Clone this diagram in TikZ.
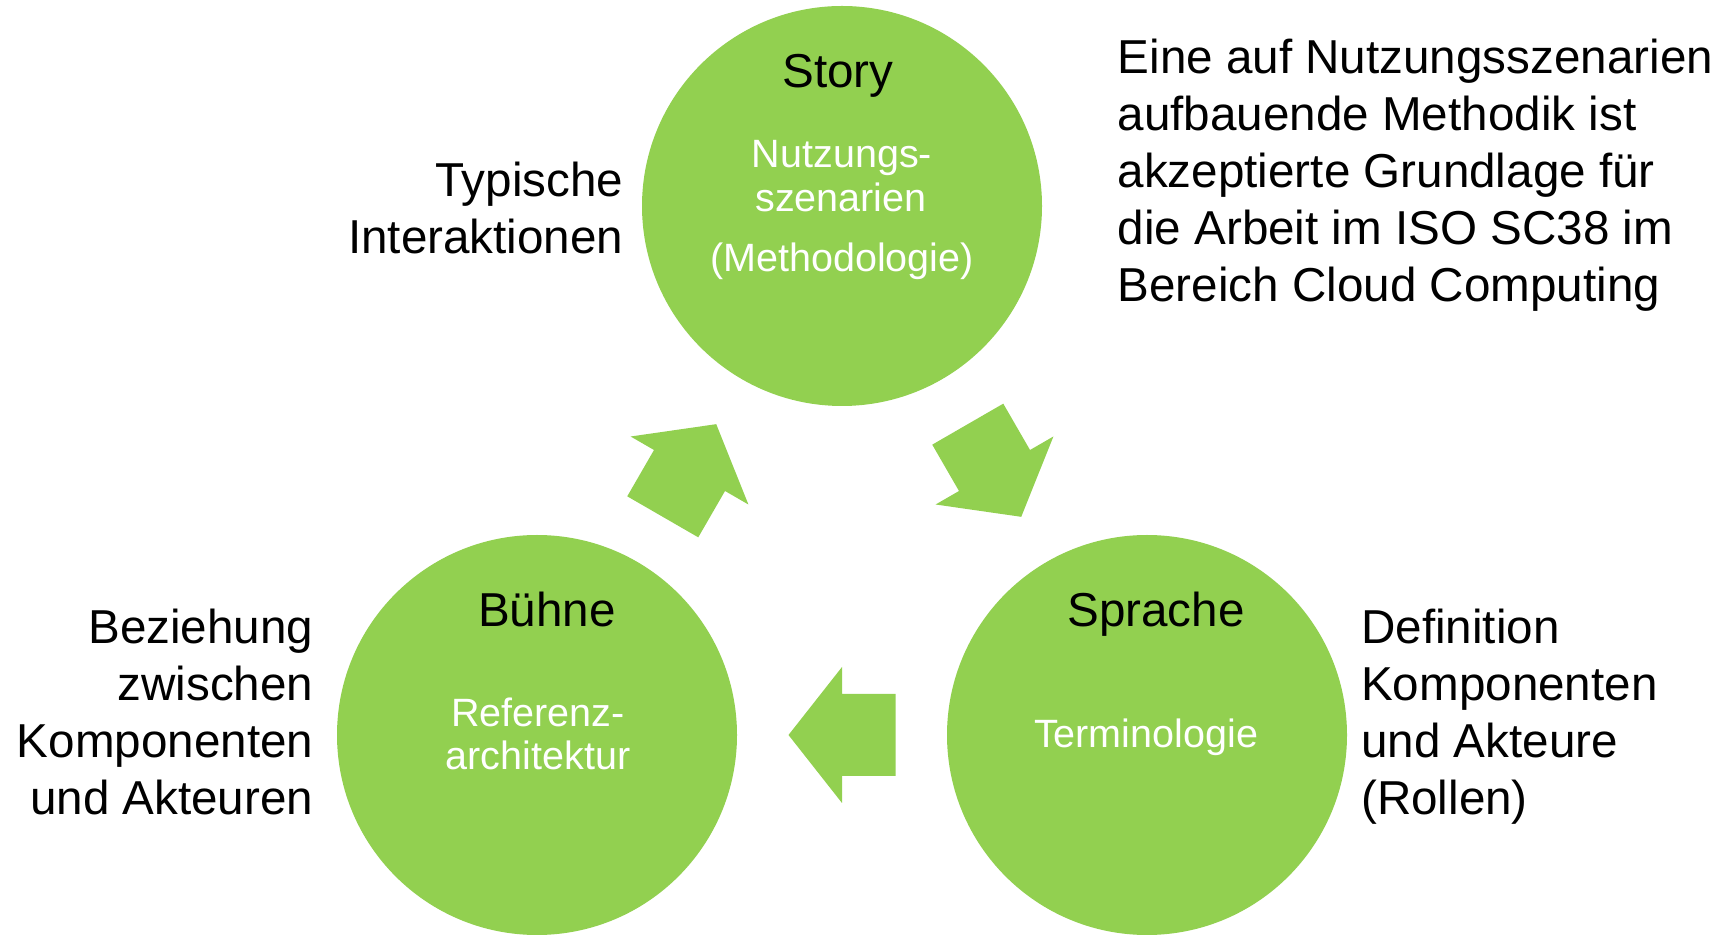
\documentclass[tikz,border=0pt]{standalone}
\usepackage{fontspec}
\setmainfont{Liberation Sans}
\usetikzlibrary{calc}
\definecolor{leaf}{HTML}{92D050}
\begin{document}
\begin{tikzpicture}[x=1pt,y=1pt,
  disc/.style={circle, fill=leaf, minimum size=400pt, inner sep=0pt},
  title/.style={font=\fontsize{47.6}{57.1}\selectfont, inner sep=0pt, text=black},
  sub/.style={font=\fontsize{39.5}{44}\selectfont, inner sep=0pt, text=white, align=center},
  note/.style={font=\fontsize{47.6}{57.1}\selectfont, inner sep=0pt, text=black},
  blockarrow/.style={fill=leaf}]
\useasboundingbox (0,0) rectangle (1731,934);

% the three stages
\node[disc] (story)   at (842,728) {};
\node[disc] (buehne)  at (537,199) {};
\node[disc] (sprache) at (1147,199) {};

% block arrows between the stages, centred between the discs
\newcommand{\blockarrowpath}{(-53.5,-41) -- (0,-41) -- (0,-68) -- (53.5,0) -- (0,68) -- (0,41) -- (-53.5,41) -- cycle}
\fill[blockarrow, shift={($(buehne)!0.5!(story)$)}, rotate=60] \blockarrowpath;
\fill[blockarrow, shift={($(story)!0.5!(sprache)$)}, rotate=-60] \blockarrowpath;
\fill[blockarrow, shift={($(sprache)!0.5!(buehne)$)}, rotate=180] \blockarrowpath;

% labels inside the discs
\node[title, anchor=base] (storyt) at (838,846) {Story};
\node[sub, anchor=base] (storys1) at (842,766) {Nutzungs-};
\node[sub, anchor=base] (storys2) at (841,722) {szenarien};
\node[sub, anchor=base] (storys3) at (842,662) {(Methodologie)};

\node[title, anchor=base] (buehnet) at (547,307) {Bühne};
\node[sub, anchor=base] (buehnes1) at (538,207) {Referenz-};
\node[sub, anchor=base] (buehnes2) at (538,164) {architektur};

\node[title, anchor=base] (sprachet) at (1156,307) {Sprache};
\node[sub, anchor=base] (sprachos) at (1146,186) {Terminologie};

% explanations beside the discs (anchored on the baseline of the last line)
\node[note, anchor=base east, align=right] (typ) at (623.5,680) {Typische\\Interaktionen};
\node[note, anchor=base east, align=right] (bez) at (313.5,119) {Beziehung\\zwischen\\Komponenten\\und Akteuren};
\node[note, anchor=base west, align=left] (def) at (1361,119) {Definition\\Komponenten\\und Akteure\\(Rollen)};
\node[note, anchor=base west, align=left] (eine) at (1117.5,632) {Eine auf Nutzungsszenarien\\aufbauende Methodik ist\\akzeptierte Grundlage für\\die Arbeit im ISO SC38 im\\Bereich Cloud Computing};
\end{tikzpicture}
\end{document}
